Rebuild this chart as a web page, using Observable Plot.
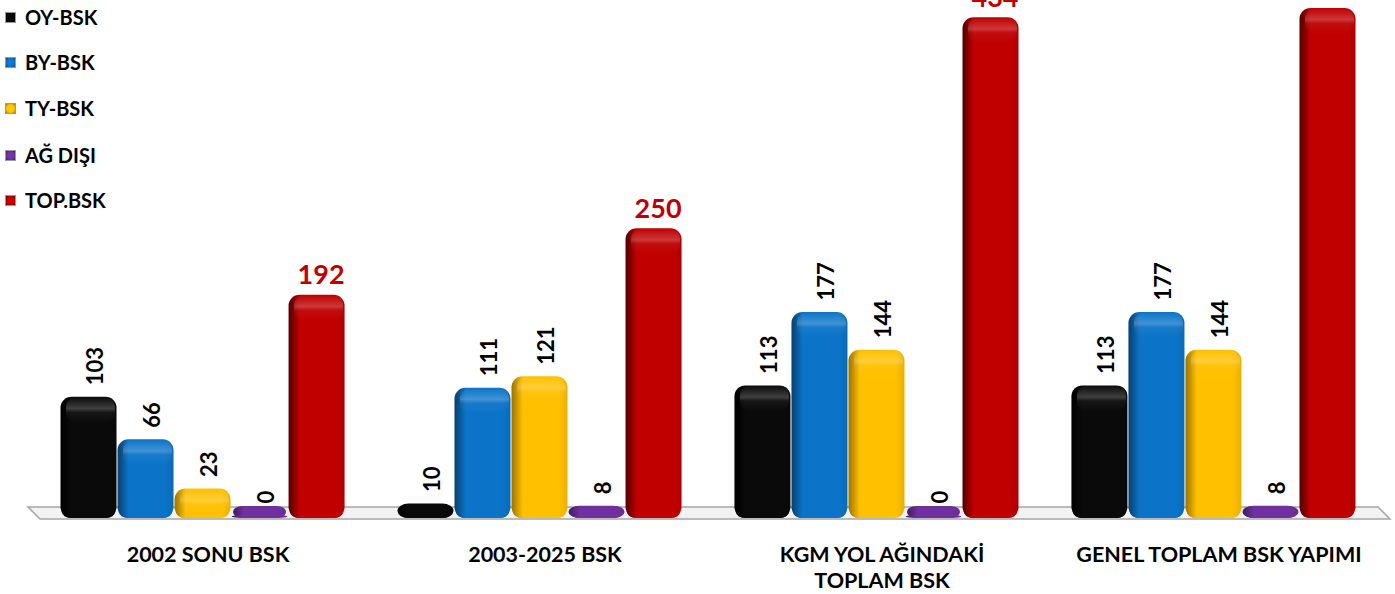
<!DOCTYPE html>
<html><head><meta charset="utf-8">
<script src="https://cdn.jsdelivr.net/npm/d3@7"></script>
<script src="https://cdn.jsdelivr.net/npm/@observablehq/plot@0.6"></script>
<style>
body{margin:0;background:#fff;font-family:Lato,sans-serif}
#wrap{position:relative;width:1395px;height:594px;overflow:hidden;background:#fff}
#legend{position:absolute;left:5px;top:0;}
.item{position:absolute;left:0;height:24px;display:flex;align-items:center;font-weight:bold;font-size:20px;color:#000;white-space:nowrap}
.sw{width:9px;height:9px;border:1.5px solid #9a9a9a;margin-right:9px}
</style></head><body><div id="wrap"><div id="chart"></div><div id="legend"></div></div>
<script>
// ---- data ----
const groups = ["2002 SONU BSK", "2003-2025 BSK", "KGM YOL AĞINDAKİ\nTOPLAM BSK", "GENEL TOPLAM BSK YAPIMI"];
const series = ["OY-BSK", "BY-BSK", "TY-BSK", "AĞ DIŞI", "TOP.BSK"];
const oyBsk  = [103, 10, 113, 113];
const byBsk  = [66, 111, 177, 177];
const tyBsk  = [23, 121, 144, 144];
const agDisi = [0, 8, 0, 8];
const topBsk = [192, 250, 434, 442];
const values = [oyBsk, byBsk, tyBsk, agDisi, topBsk];
const baseColors = ["#0a0a0a", "#0b74c8", "#ffc000", "#7030a0", "#c00000"];
const edgeColors = ["#000000", "#083f6e", "#9a7300", "#3e1a5c", "#520000"];

const data = [];
groups.forEach((g, gi) => series.forEach((s, si) => data.push({group: g, series: s, value: values[si][gi]})));

const gradIds = series.map((s, i) => `g${i}`);

const plot = Plot.plot({
  width: 1395,
  height: 594,
  marginTop: 0,
  marginBottom: 79,
  marginLeft: 60,
  marginRight: 39,
  style: {fontFamily: "Lato, sans-serif", background: "transparent", overflow: "visible"},
  facet: {data, x: "group"},
  fx: {domain: groups, paddingInner: 0.154, paddingOuter: 0, round: false, axis: null},
  x: {domain: series, padding: 0, round: false, axis: null},
  y: {domain: [0, 449], axis: null},
  color: {domain: series, range: gradIds.map(id => `url(#${id})`)},
  marks: [
    // base pill (visible for zero-height bars)
    Plot.barY(data, {x: "series", y1: 0, y2: 0, insetTop: -9, insetBottom: -3, insetLeft: 2, insetRight: 2, fill: "series", rx: 9}),
    Plot.barY(data, {x: "series", y: "value", fill: "series", rx: 11, insetLeft: 0.5, insetRight: 0.5, insetBottom: -3}),
    Plot.barY(data, {filter: d => d.value > 15, x: "series", y1: "value", y2: "value", insetTop: 0, insetBottom: -26, insetLeft: 6, insetRight: 2, fill: "url(#hl)", rx: 11}),
    Plot.text(data, {filter: d => d.series !== "TOP.BSK", x: "series", y: "value", text: d => String(d.value),
      rotate: -90, textAnchor: "start", dy: -12, dx: 7, fontSize: 22, fontWeight: "bold", fill: "#000"}),
    Plot.text(data, {filter: d => d.series === "TOP.BSK", x: "series", y: "value", text: d => String(d.value),
      lineAnchor: "bottom", dy: -11, dx: 4, fontSize: 27, fontWeight: "bold", fill: "#c00000"}),
    Plot.text(data, {filter: d => d.series === "OY-BSK", frameAnchor: "bottom", text: "group",
      lineAnchor: "top", dy: 27, dx: 5, fontSize: 21.5, fontWeight: "bold", lineHeight: 1.25, fill: "#000"})
  ]
});

// gradients & floor
const ns = "http://www.w3.org/2000/svg";
let defs = `<defs>`;
series.forEach((s, i) => {
  defs += `<linearGradient id="${gradIds[i]}" x1="0" y1="0" x2="1" y2="0">
    <stop offset="0" stop-color="${edgeColors[i]}"/>
    <stop offset="0.2" stop-color="${baseColors[i]}"/>
    <stop offset="0.85" stop-color="${baseColors[i]}"/>
    <stop offset="1" stop-color="${d3.color(baseColors[i]).darker(0.25)}"/>
  </linearGradient>`;
});
defs += `<linearGradient id="hl" x1="0" y1="0" x2="0" y2="1">
  <stop offset="0" stop-color="#fff" stop-opacity="0"/>
  <stop offset="0.45" stop-color="#fff" stop-opacity="0.22"/>
  <stop offset="0.6" stop-color="#fff" stop-opacity="0.05"/>
  <stop offset="1" stop-color="#fff" stop-opacity="0"/>
</linearGradient></defs>`;
plot.insertAdjacentHTML("afterbegin", defs);

const y0 = plot.scale("y").apply(0);
const W = 1395, mL = 60, mR = 39;
const floor = document.createElementNS(ns, "polygon");
floor.setAttribute("points", [[mL - 32, y0 - 8], [W - mR + 22, y0 - 8], [W - mR + 34, y0 + 4], [mL - 20, y0 + 4]].map(p => p.join(",")).join(" "));
floor.setAttribute("fill", "#f2f2f2");
floor.setAttribute("stroke", "#a6a6a6");
floor.setAttribute("stroke-width", "1.5");
plot.querySelector("defs").after(floor);

document.getElementById("chart").appendChild(plot);

// legend
const legend = document.getElementById("legend");
const legendY = [17, 62, 108, 155, 200];
series.forEach((s, i) => {
  const it = document.createElement("div");
  it.className = "item";
  it.style.top = (legendY[i] - 12) + "px";
  const sw = document.createElement("span");
  sw.className = "sw";
  sw.style.background = `radial-gradient(circle, ${d3.color(baseColors[i]).brighter(0.3)} 0%, ${baseColors[i]} 60%, ${edgeColors[i]} 100%)`;
  it.appendChild(sw);
  it.appendChild(document.createTextNode(s));
  legend.appendChild(it);
});
</script></body></html>
